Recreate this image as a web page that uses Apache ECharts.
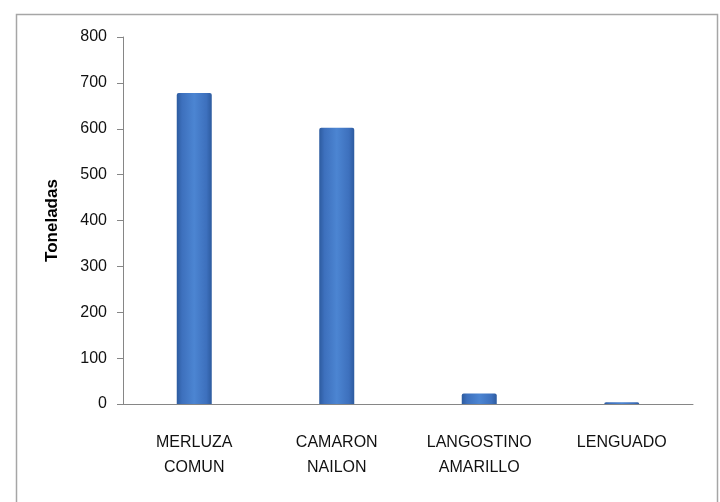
<!DOCTYPE html>
<html>
<head>
<meta charset="utf-8">
<script src="https://cdn.jsdelivr.net/npm/echarts@6/dist/echarts.min.js"></script>
<style>
html,body{margin:0;padding:0;background:#fff;}
#chart{width:720px;height:502px;}
</style>
</head>
<body>
<div id="chart"></div>
<script>
var categories = ['MERLUZA\nCOMUN', 'CAMARON\nNAILON', 'LANGOSTINO\nAMARILLO', 'LENGUADO'];
var values = [678, 602, 23, 4];
var yAxisName = 'Toneladas';

var chart = echarts.init(document.getElementById('chart'));
chart.setOption({
  animation: false,
  backgroundColor: '#ffffff',
  graphic: [{
    type: 'rect',
    left: 14, top: 12,
    shape: { width: 701, height: 500 },
    style: { fill: 'none', stroke: '#a6a6a6', lineWidth: 1.5 },
    z: 0
  }],
  grid: { left: 123, right: 27, top: 37, bottom: 98, containLabel: false },
  xAxis: {
    type: 'category',
    data: categories,
    axisLine: { lineStyle: { color: '#868686', width: 1 } },
    axisTick: { show: false },
    axisLabel: {
      color: '#111',
      fontFamily: '"Liberation Sans", Arial, sans-serif',
      fontSize: 16,
      lineHeight: 25,
      margin: 26,
      interval: 0
    }
  },
  yAxis: {
    type: 'value',
    min: 0, max: 800, interval: 100,
    name: yAxisName,
    nameLocation: 'middle',
    nameGap: 62,
    nameRotate: 90,
    nameTextStyle: {
      color: '#000',
      fontFamily: '"Liberation Sans", Arial, sans-serif',
      fontWeight: 'bold',
      fontSize: 17
    },
    axisLine: { show: true, lineStyle: { color: '#868686', width: 1 } },
    axisTick: { show: true, length: 6, lineStyle: { color: '#868686' } },
    splitLine: { show: false },
    axisLabel: {
      color: '#111',
      fontFamily: '"Liberation Sans", Arial, sans-serif',
      fontSize: 16,
      margin: 16
    }
  },
  series: [{
    type: 'bar',
    data: values,
    barWidth: 35,
    itemStyle: {
      color: {
        type: 'linear', x: 0, y: 0, x2: 1, y2: 0,
        colorStops: [
          { offset: 0, color: '#2d5b9f' },
          { offset: 0.15, color: '#3d70bd' },
          { offset: 0.5, color: '#4c85d2' },
          { offset: 0.85, color: '#3d70bd' },
          { offset: 1, color: '#2d5b9f' }
        ]
      },
      borderRadius: [2, 2, 0, 0]
    }
  }]
});
</script>
</body>
</html>
